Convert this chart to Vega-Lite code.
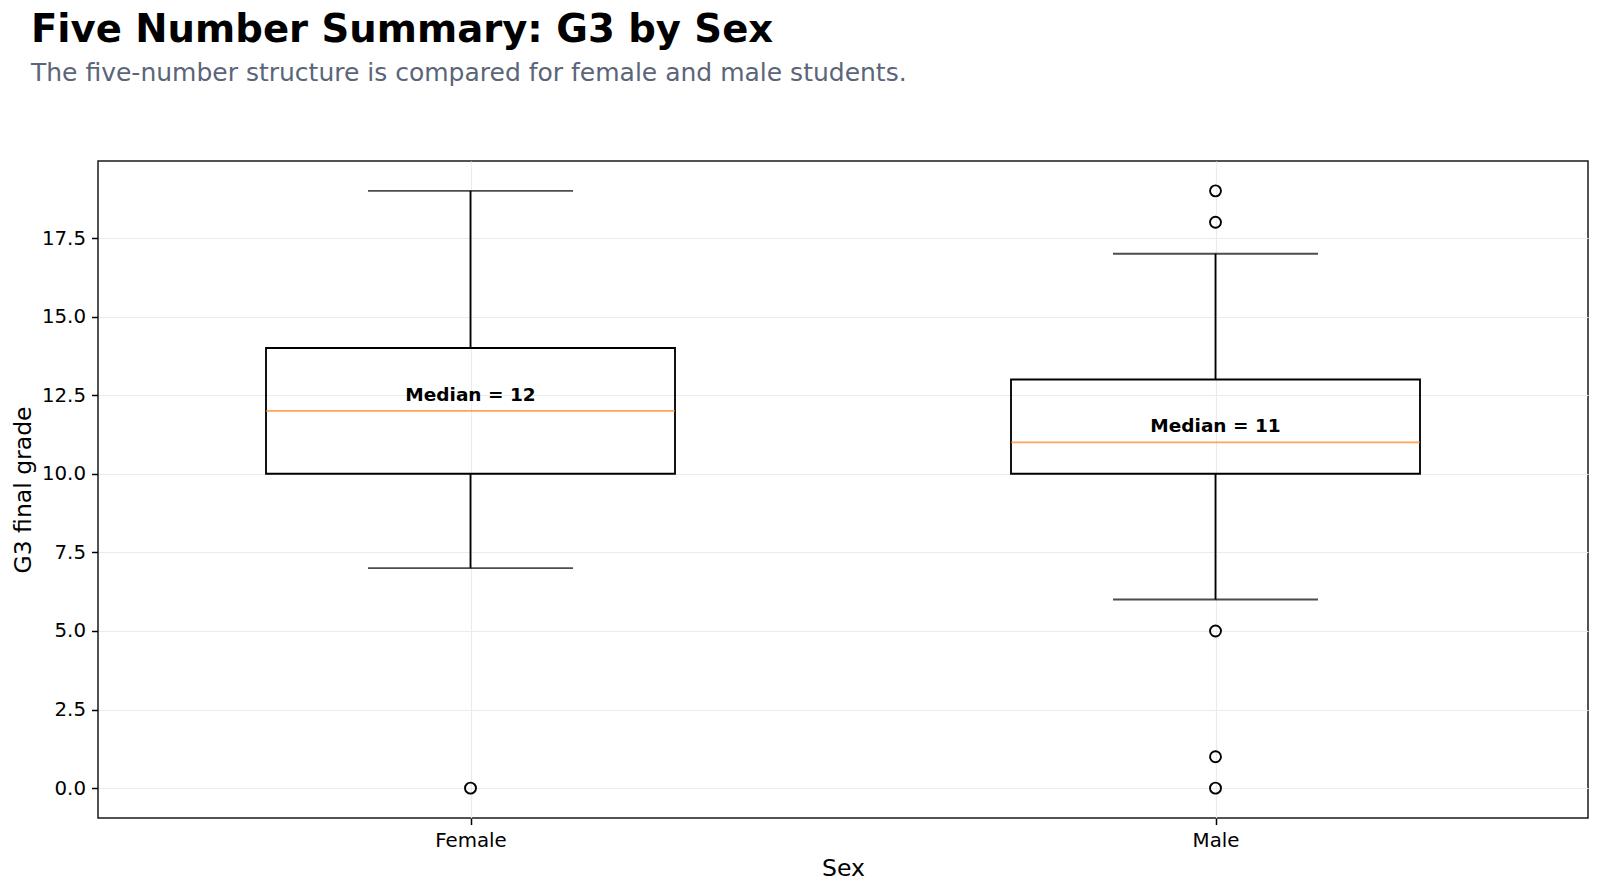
{
  "$schema": "https://vega.github.io/schema/vega-lite/v6.json",
  "width": 1490,
  "height": 657,
  "autosize": {"type": "none"},
  "padding": {"left": 98, "top": 161, "right": 12, "bottom": 75},
  "background": "white",
  "title": {
    "text": "Five Number Summary: G3 by Sex",
    "subtitle": "The five-number structure is compared for female and male students.",
    "anchor": "start",
    "frame": "group",
    "dx": -67,
    "offset": 74,
    "font": "DejaVu Sans",
    "fontSize": 38.6,
    "fontWeight": "bold",
    "color": "#000000",
    "subtitleFont": "DejaVu Sans",
    "subtitleFontSize": 25,
    "subtitleColor": "#5b6579",
    "subtitlePadding": 10
  },
  "datasets": {
    "summary": [
      {"sex": "Female", "lower": 7, "q1": 10, "median": 12, "q3": 14, "upper": 19},
      {"sex": "Male", "lower": 6, "q1": 10, "median": 11, "q3": 13, "upper": 17}
    ],
    "outliers": [
      {"sex": "Female", "g3": 0},
      {"sex": "Male", "g3": 19},
      {"sex": "Male", "g3": 18},
      {"sex": "Male", "g3": 5},
      {"sex": "Male", "g3": 1},
      {"sex": "Male", "g3": 0}
    ]
  },
  "encoding": {
    "x": {
      "field": "sex",
      "type": "nominal",
      "scale": {"type": "point", "padding": 0.5, "domain": ["Female", "Male"]},
      "axis": {
        "title": "Sex",
        "labelAngle": 0,
        "grid": true,
        "domain": false,
        "tickSize": 6.5,
        "labelPadding": 6,
        "titlePadding": 6
      }
    }
  },
  "layer": [
    {
      "data": {"name": "summary"},
      "mark": {"type": "rule", "stroke": "#000000", "strokeWidth": 1.85},
      "encoding": {
        "y": {
          "field": "lower",
          "type": "quantitative",
          "scale": {"domain": [-0.95, 19.95], "nice": false, "zero": false},
          "axis": {
            "title": "G3 final grade",
            "values": [0, 2.5, 5, 7.5, 10, 12.5, 15, 17.5],
            "format": ".1f",
            "domain": false,
            "tickSize": 6.5,
            "labelPadding": 6,
            "titlePadding": 6
          }
        },
        "y2": {"field": "q1"}
      }
    },
    {
      "data": {"name": "summary"},
      "mark": {"type": "rule", "stroke": "#000000", "strokeWidth": 1.85},
      "encoding": {
        "y": {"field": "q3", "type": "quantitative"},
        "y2": {"field": "upper"}
      }
    },
    {
      "data": {"name": "summary"},
      "mark": {"type": "tick", "orient": "horizontal", "size": 205, "thickness": 1.85, "color": "#000000"},
      "encoding": {"y": {"field": "lower", "type": "quantitative"}}
    },
    {
      "data": {"name": "summary"},
      "mark": {"type": "tick", "orient": "horizontal", "size": 205, "thickness": 1.85, "color": "#000000"},
      "encoding": {"y": {"field": "upper", "type": "quantitative"}}
    },
    {
      "data": {"name": "summary"},
      "mark": {"type": "bar", "size": 409, "fill": "#ffffff", "fillOpacity": 0, "stroke": "#000000", "strokeWidth": 1.85},
      "encoding": {
        "y": {"field": "q1", "type": "quantitative"},
        "y2": {"field": "q3"}
      }
    },
    {
      "data": {"name": "summary"},
      "mark": {"type": "tick", "orient": "horizontal", "size": 409, "thickness": 1.85, "color": "#ff7f0e"},
      "encoding": {"y": {"field": "median", "type": "quantitative"}}
    },
    {
      "data": {"name": "summary"},
      "transform": [{"calculate": "'Median = ' + datum.median", "as": "median_label"}],
      "mark": {"type": "text", "font": "DejaVu Sans", "fontSize": 18.5, "fontWeight": "bold", "color": "#000000", "baseline": "alphabetic", "align": "center", "dy": -10},
      "encoding": {
        "y": {"field": "median", "type": "quantitative"},
        "text": {"field": "median_label", "type": "nominal"}
      }
    },
    {
      "data": {"name": "outliers"},
      "mark": {"type": "point", "shape": "circle", "size": 120, "filled": false, "stroke": "#000000", "strokeWidth": 1.9, "opacity": 1},
      "encoding": {"y": {"field": "g3", "type": "quantitative"}}
    }
  ],
  "config": {
    "font": "DejaVu Sans",
    "view": {"stroke": "#1a1a1a", "strokeWidth": 1.5},
    "axis": {
      "labelFont": "DejaVu Sans",
      "labelFontSize": 19.8,
      "labelColor": "#000000",
      "titleFont": "DejaVu Sans",
      "titleFontSize": 23.5,
      "titleFontWeight": "normal",
      "titleColor": "#000000",
      "tickColor": "#000000",
      "tickWidth": 1.5,
      "gridColor": "#ebebeb",
      "gridWidth": 1.2
    }
  }
}
